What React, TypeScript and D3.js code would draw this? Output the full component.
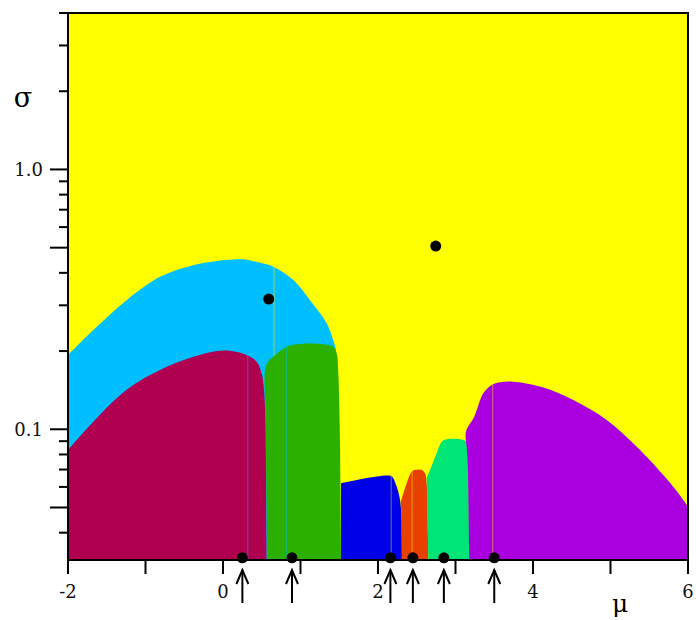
import React from 'react';
import * as d3 from 'd3';

// axis ranges
const MU_DOMAIN = [-2, 6];
const SIGMA_MIN = 0.0314;
const SIGMA_MAX = 4;

// tick values
const muTicks = [-2, -1, 0, 1, 2, 3, 4, 5, 6];
const muLabels = [-2, 0, 2, 4, 6];
const sigmaMinorTicks = [4, 3, 2, 0.9, 0.8, 0.7, 0.6, 0.4, 0.3, 0.2, 0.09, 0.08, 0.07, 0.06, 0.04];
const sigmaMajorTicks = [1, 0.5, 0.1, 0.05];
const sigmaLabels = [
  { v: 1, text: '1.0' },
  { v: 0.1, text: '0.1' },
];

const B = SIGMA_MIN; // bottom of the plot

// region outlines, [mu, sigma]
// first and last entries sit on the bottom edge
const cyanRegion = [
  [-2, B], [-2, 0.193], [-1.674, 0.241], [-1.243, 0.314], [-0.813, 0.386], [-0.383, 0.428],
  [0.044, 0.448], [0.258, 0.451], [0.477, 0.437], [0.649, 0.422], [0.907, 0.375],
  [1.123, 0.314], [1.338, 0.256], [1.423, 0.22], [1.458, 0.202], [1.47, B],
];
const maroonRegion = [
  [-2, B], [-2, 0.0832], [-1.674, 0.107], [-1.243, 0.142], [-0.813, 0.169], [-0.383, 0.19],
  [-0.082, 0.2], [0.09, 0.2005], [0.305, 0.193], [0.434, 0.182], [0.499, 0.164],
  [0.529, 0.142], [0.55, 0.106], [0.562, B],
];
const greenRegion = [
  [0.572, B], [0.545, 0.13], [0.542, 0.169], [0.581, 0.182], [0.649, 0.19], [0.822, 0.208],
  [0.994, 0.213], [1.252, 0.213], [1.423, 0.208], [1.467, 0.196], [1.488, 0.164],
  [1.51, 0.091], [1.523, B],
];
const blueRegion = [
  [1.523, B], [1.523, 0.062], [1.725, 0.0638], [1.983, 0.0658], [2.168, 0.0661],
  [2.197, 0.0648], [2.241, 0.0602], [2.284, 0.0535], [2.306, 0.0448], [2.31, B],
];
const orangeRegion = [
  [2.306, B], [2.297, 0.0527], [2.37, 0.062], [2.435, 0.0687], [2.477, 0.0697],
  [2.564, 0.0697], [2.606, 0.0677], [2.628, 0.062], [2.641, 0.0448], [2.649, B],
];
const springRegion = [
  [2.649, B], [2.628, 0.0648], [2.671, 0.0697], [2.757, 0.0809], [2.822, 0.0896],
  [2.886, 0.0916], [3.101, 0.091], [3.148, 0.0886], [3.168, 0.0762], [3.177, B],
];
const purpleRegion = [
  [3.177, B], [3.161, 0.0697], [3.148, 0.0832], [3.135, 0.0979], [3.242, 0.1118],
  [3.359, 0.1375], [3.467, 0.148], [3.574, 0.1517], [3.746, 0.1525], [4.09, 0.146],
  [4.52, 0.1297], [4.951, 0.1086], [5.381, 0.0832], [5.81, 0.0601], [6, 0.0504], [6, B],
];

const regions = [
  { id: 'cyan', pts: cyanRegion, fill: '#00bfff', seams: [0.66], seamColor: '#ffff00' },
  { id: 'maroon', pts: maroonRegion, fill: '#b00050', seams: [0.32], seamColor: '#00bfff' },
  { id: 'green', pts: greenRegion, fill: '#2cb000', seams: [0.82], seamColor: '#00bfff' },
  { id: 'blue', pts: blueRegion, fill: '#0000e6', seams: [2.17], seamColor: '#ffff00' },
  { id: 'orange', pts: orangeRegion, fill: '#e84000', seams: [2.44], seamColor: '#ffff00' },
  { id: 'spring', pts: springRegion, fill: '#00e676', seams: [], seamColor: '#ffff00' },
  { id: 'purple', pts: purpleRegion, fill: '#aa00e0', seams: [3.48], seamColor: '#ffff00' },
];

// marked points
const axisPointsMu = [0.25, 0.89, 2.16, 2.45, 2.85, 3.5];
const axisPointSigma = 0.032;
const freePoints = [
  [0.59, 0.317],
  [2.745, 0.507],
];

const W = 696;
const H = 620;
const FONT = 'DejaVu Serif';

export default function App() {
  const x = d3.scaleLinear().domain(MU_DOMAIN).range([68, 688]);
  const y = d3.scaleLog().domain([SIGMA_MIN, SIGMA_MAX]).range([560, 13]);

  const line = d3
    .line<number[]>()
    .x((d) => x(d[0]))
    .y((d) => y(d[1]))
    .curve(d3.curveCatmullRom.alpha(0.5));

  // smooth top boundary, straight sides down to the bottom edge
  const regionPath = (pts: number[][]) => {
    const bl = pts[0];
    const br = pts[pts.length - 1];
    const top = line(pts.slice(1, -1)) || '';
    return `M${x(bl[0])},${y(bl[1])}L${top.slice(1)}L${x(br[0])},${y(br[1])}Z`;
  };

  const [y0, y1] = y.range();

  return (
    <svg width={W} height={H} style={{ position: 'absolute', left: 0, top: 0 }}>
      <defs>
        {regions.map((r) => (
          <clipPath id={`clip-${r.id}`} key={r.id}>
            <path d={regionPath(r.pts)} />
          </clipPath>
        ))}
      </defs>

      <rect x={x(-2)} y={y1} width={x(6) - x(-2)} height={y0 - y1} fill="#ffff00" />

      {regions.map((r) => (
        <g key={r.id}>
          <path d={regionPath(r.pts)} fill={r.fill} />
          <g clipPath={`url(#clip-${r.id})`}>
            {r.seams.map((m) => (
              <line
                key={m}
                x1={x(m)}
                x2={x(m)}
                y1={y1}
                y2={y0}
                stroke={r.seamColor}
                strokeOpacity={0.45}
                strokeWidth={1}
              />
            ))}
          </g>
        </g>
      ))}

      {/* frame */}
      <rect
        x={x(-2)}
        y={y1}
        width={x(6) - x(-2)}
        height={y0 - y1}
        fill="none"
        stroke="#000"
        strokeWidth={2}
      />

      {/* bottom ticks */}
      {muTicks.map((t) => (
        <line key={t} x1={x(t)} x2={x(t)} y1={y0} y2={y0 + 14} stroke="#000" strokeWidth={2} />
      ))}
      {muLabels.map((t) => (
        <text key={t} x={x(t)} y={598} textAnchor="middle" fontFamily={FONT} fontSize={18} fill="#111">
          {t}
        </text>
      ))}

      {/* left ticks */}
      {sigmaMinorTicks.map((t) => (
        <line key={t} x1={x(-2) - 9} x2={x(-2)} y1={y(t)} y2={y(t)} stroke="#000" strokeWidth={2} />
      ))}
      {sigmaMajorTicks.map((t) => (
        <line key={t} x1={x(-2) - 18} x2={x(-2)} y1={y(t)} y2={y(t)} stroke="#000" strokeWidth={2} />
      ))}
      {sigmaLabels.map((l) => (
        <text
          key={l.text}
          x={43}
          y={y(l.v) + 6.5}
          textAnchor="end"
          fontFamily={FONT}
          fontSize={18}
          fill="#111"
        >
          {l.text}
        </text>
      ))}

      {/* axis titles */}
      <text x={23} y={107} textAnchor="middle" fontFamily={FONT} fontSize={27} fill="#000">
        σ
      </text>
      <text x={620} y={612} textAnchor="middle" fontFamily={FONT} fontSize={25} fill="#000">
        μ
      </text>

      {/* points */}
      {axisPointsMu.map((m) => (
        <circle key={m} cx={x(m)} cy={y(axisPointSigma)} r={5.5} fill="#000" />
      ))}
      {freePoints.map((p) => (
        <circle key={p[0]} cx={x(p[0])} cy={y(p[1])} r={5.5} fill="#000" />
      ))}

      {/* arrows under the axis */}
      {axisPointsMu.map((m) => (
        <g key={m} stroke="#000" strokeWidth={2} fill="none">
          <line x1={x(m)} x2={x(m)} y1={570} y2={603} />
          <polyline points={`${x(m) - 6},${584} ${x(m)},${570} ${x(m) + 6},${584}`} />
        </g>
      ))}
    </svg>
  );
}
